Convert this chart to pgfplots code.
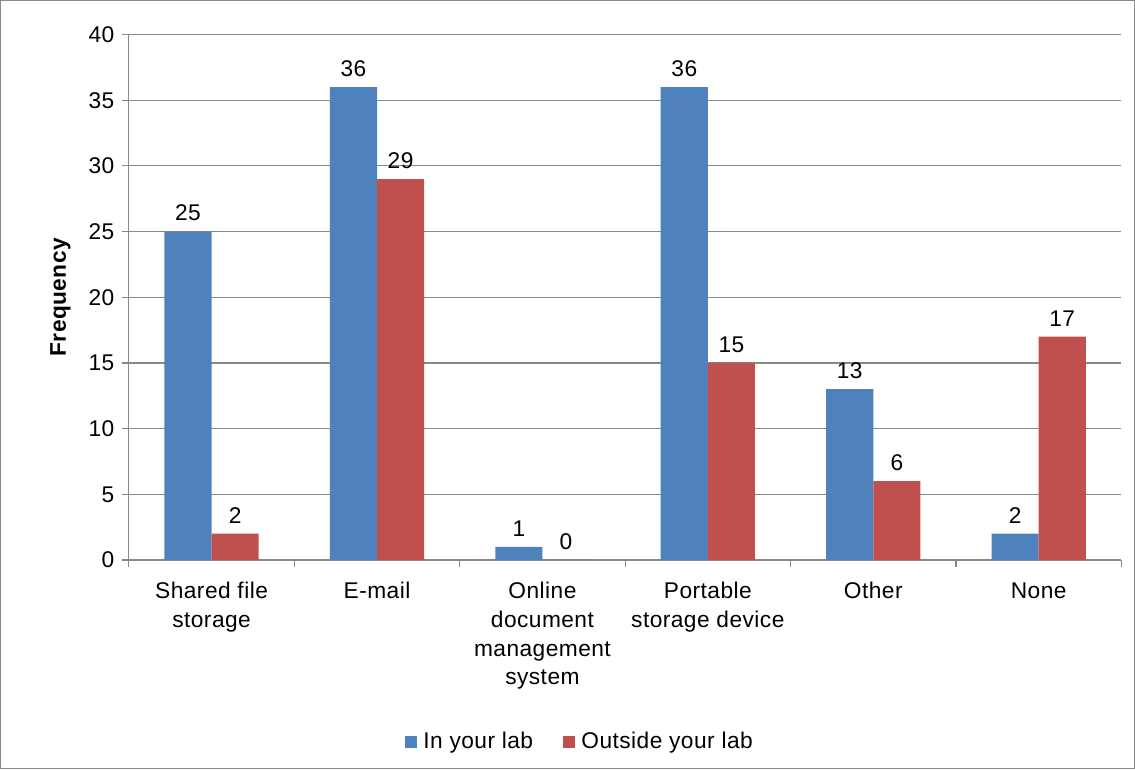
\documentclass[border=0pt]{standalone}
\usepackage{pgfplots}
\pgfplotsset{compat=1.18}
\usepackage{fontspec}
\setmainfont{Liberation Sans}[LetterSpace=2]
\definecolor{sblue}{HTML}{4F81BD}
\definecolor{sred}{HTML}{C0504D}
\definecolor{gridc}{HTML}{888888}
\begin{document}
\fontsize{17}{20}\selectfont
\begin{tikzpicture}
\begin{axis}[
  scale only axis, width=742.5pt, height=393pt,
  ybar=0pt, bar width=35.25pt,
  xmin=-0.5, xmax=5.5, ymin=0, ymax=40,
  xtick={0,1,2,3,4,5},
  xticklabels={{Shared f{}ile\\storage},{E-mail},{Online\\document\\management\\system},{Portable\\storage device},{Other},{None}},
  xticklabel style={align=center, font=\fontsize{17}{21.4}\selectfont, yshift=-6pt},
  major x tick style={draw=none},
  minor xtick={-0.5,0.5,...,5.5},
  minor x tick style={draw=gridc, thick},
  minor tick length=5pt,
  ytick={0,5,...,40},
  major y tick style={draw=gridc, thick},
  major tick length=5pt,
  tick align=outside,
  ymajorgrids, grid style={draw=gridc, line width=0.8pt},
  axis x line*=bottom, axis y line*=left,
  axis line style={draw=gridc, line width=0.8pt, -},
  /pgf/number format/assume math mode=true,
  yticklabel style={font=\fontsize{17}{20}\selectfont},
  ylabel={\bfseries Frequency},
  ylabel style={font=\fontsize{17}{20}\selectfont, yshift=2pt},
  nodes near coords,
  every node near coord/.append style={font=\fontsize{17}{20}\selectfont, yshift=2pt},
  legend style={at={(rel axis cs:0.4545,-0.347)}, anchor=center, draw=none, legend columns=2,
    font=\fontsize{17}{20}\selectfont,
    /tikz/every odd column/.append style={column sep=3pt},
    /tikz/every even column/.append style={column sep=20pt}},
  legend image code/.code={\fill[#1] (0cm,-0.16cm) rectangle (0.32cm,0.16cm);},
  clip=false,
]
\addplot[fill=sblue, draw=none] coordinates {(0,25) (1,36) (2,1) (3,36) (4,13) (5,2)};
\addplot[fill=sred, draw=none] coordinates {(0,2) (1,29) (2,0) (3,15) (4,6) (5,17)};
\legend{In your lab, Outside your lab}
\end{axis}
\draw[gridc, line width=0.8pt] (-96pt,-156pt) rectangle (752.25pt,418.5pt);
\end{tikzpicture}
\end{document}
